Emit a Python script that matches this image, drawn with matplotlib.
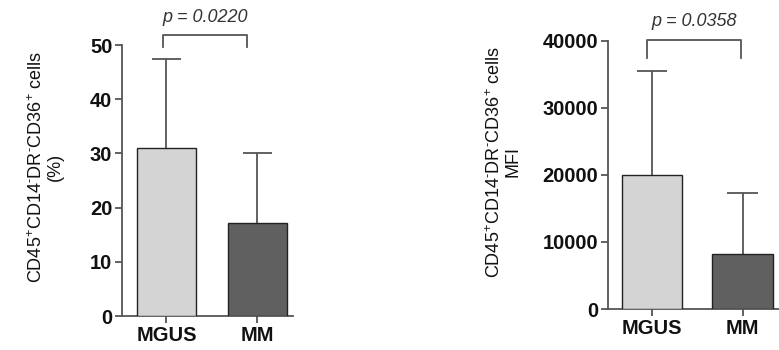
import matplotlib
matplotlib.use("Agg")
import matplotlib.pyplot as plt

plt.rcParams['font.family'] = ['Liberation Sans', 'DejaVu Sans']
plt.rcParams['mathtext.fontset'] = 'custom'
plt.rcParams['mathtext.rm'] = 'Liberation Sans'
plt.rcParams['mathtext.it'] = 'Liberation Sans:italic'

groups = ["MGUS", "MM"]
pct_mean = [31.0, 17.2]
pct_sd = [16.5, 12.8]
mfi_mean = [20000, 8200]
mfi_sd = [15500, 9100]
pct_ticks = [0, 10, 20, 30, 40, 50]
mfi_ticks = [0, 10000, 20000, 30000, 40000]
p_pct = "p = 0.0220"
p_mfi = "p = 0.0358"
label_cells = r"CD45$^{+}$CD14$^{\text{-}}$DR$^{\text{-}}$CD36$^{+}$ cells"

bar_colors = ["#d4d4d4", "#606060"]
axis_col = "#555555"

fig = plt.figure(figsize=(7.79, 3.5), dpi=100)
ax1 = fig.add_axes([0.1566, 0.0971, 0.2195, 0.7743])
ax2 = fig.add_axes([0.780, 0.117, 0.222, 0.7666])


def panel(ax, means, sds, ticks, ylab, ptxt, width, xr, br_x, br_y, lab_x):
    x = list(range(len(groups)))
    ax.bar(x, means, width=width, color=bar_colors, edgecolor="#222222",
           linewidth=1.0, zorder=3)
    tops = [m + s for m, s in zip(means, sds)]
    cw = width * 0.25
    ax.vlines(x, means, tops, color=axis_col, lw=1.3, zorder=2)
    ax.hlines(tops, [xi - cw for xi in x], [xi + cw for xi in x],
              color=axis_col, lw=1.3, zorder=2)
    ax.set_xlim(*xr)
    ax.set_ylim(ticks[0], ticks[-1])
    ax.set_yticks(ticks)
    ax.set_xticks(x)
    ax.set_xticklabels(groups)
    for s in ["top", "right"]:
        ax.spines[s].set_visible(False)
    for s in ["left", "bottom"]:
        ax.spines[s].set_color(axis_col)
        ax.spines[s].set_linewidth(1.3)
    ax.tick_params(axis="both", direction="out", length=5, width=1.3,
                   color=axis_col, labelsize=14.5, pad=2)
    for t in ax.get_xticklabels() + ax.get_yticklabels():
        t.set_fontweight("bold")
        t.set_color("#111111")
    ax.set_ylabel(ylab, fontsize=13, linespacing=1.05,
                  multialignment="center", color="#111111")
    ax.yaxis.set_label_coords(lab_x, 0.55)
    # significance bracket
    bx0, bx1 = br_x
    ylo, yhi = br_y
    ax.plot([bx0, bx0, bx1, bx1], [ylo, yhi, yhi, ylo], color=axis_col,
            lw=1.3, clip_on=False, zorder=4)
    ax.text((bx0 + bx1) / 2, yhi + (ticks[-1] - ticks[0]) * 0.035, ptxt,
            ha="center", va="bottom", fontsize=13, style="italic",
            color="#333333", clip_on=False)


panel(ax1, pct_mean, pct_sd, pct_ticks,
      label_cells + "\n(%)", p_pct, 0.65, (-0.489, 1.39),
      (-0.04, 0.885), (49.6, 51.8), -0.34)
panel(ax2, mfi_mean, mfi_sd, mfi_ticks,
      label_cells + "\nMFI", p_mfi, 0.67, (-0.49, 1.42),
      (-0.056, 0.98), (37470, 40150), -0.50)

fig.savefig("out.png", dpi=100)
